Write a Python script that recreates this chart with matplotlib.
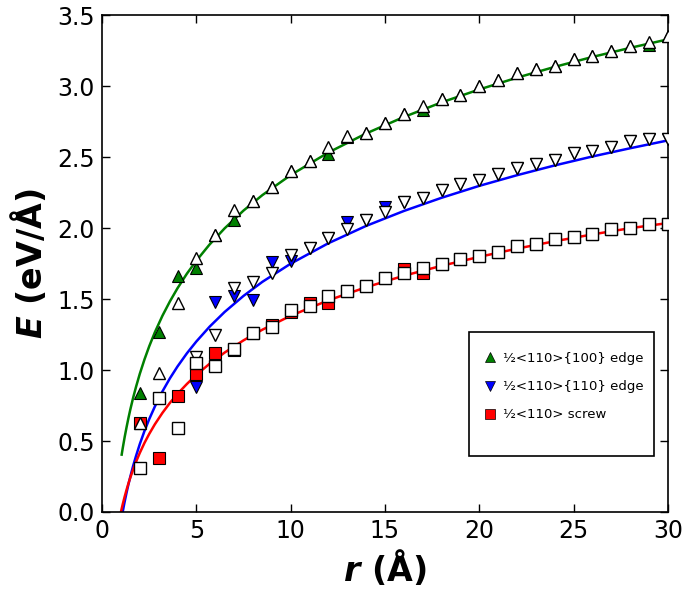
import matplotlib
matplotlib.use("Agg")
import matplotlib.pyplot as plt
from matplotlib.lines import Line2D
from matplotlib.patches import Rectangle

plt.rcParams["font.family"] = ["DejaVu Sans"]
plt.rcParams["mathtext.fontset"] = "custom"
plt.rcParams["mathtext.it"] = "DejaVu Sans:italic:bold"

# fitted curves
r_fit_100 = [1.04, 1.1, 1.2, 1.3, 1.4, 1.5, 1.65, 1.8, 2, 2.25, 2.5, 2.8, 3.2, 3.6, 4, 4.5, 5, 5.7,
             6.5, 7.5, 8.5, 10, 12, 14, 16, 18, 20, 22, 24, 26, 28, 30]
e_fit_100 = [0.404, 0.453, 0.529, 0.598, 0.663, 0.723, 0.806, 0.881, 0.973, 1.075, 1.167, 1.266,
             1.382, 1.484, 1.576, 1.679, 1.770, 1.884, 1.998, 2.123, 2.232, 2.373, 2.532, 2.666,
             2.782, 2.885, 2.976, 3.059, 3.135, 3.205, 3.269, 3.329]

r_fit_110 = [1.093, 1.15, 1.2, 1.3, 1.4, 1.5, 1.65, 1.8, 2, 2.25, 2.5, 2.8, 3.2, 3.6, 4, 4.5, 5, 5.7,
             6.5, 7.5, 8.5, 10, 12, 14, 16, 18, 20, 22, 24, 26, 28, 30]
e_fit_110 = [0.0, 0.040, 0.074, 0.137, 0.196, 0.250, 0.326, 0.394, 0.478, 0.571, 0.654, 0.743,
             0.849, 0.942, 1.025, 1.118, 1.201, 1.305, 1.409, 1.522, 1.621, 1.749, 1.893, 2.015,
             2.120, 2.213, 2.297, 2.372, 2.441, 2.504, 2.562, 2.617]

r_fit_screw = [1.0, 1.05, 1.1, 1.2, 1.3, 1.4, 1.5, 1.65, 1.8, 2, 2.25, 2.5, 2.8, 3.2, 3.6, 4, 4.5, 5,
               5.7, 6.5, 7.5, 8.5, 10, 12, 14, 16, 18, 20, 22, 24, 26, 28, 30]
e_fit_screw = [0.0, 0.029, 0.057, 0.109, 0.157, 0.202, 0.243, 0.300, 0.353, 0.416, 0.487, 0.550,
               0.618, 0.698, 0.769, 0.832, 0.902, 0.966, 1.044, 1.123, 1.209, 1.284, 1.382, 1.491,
               1.583, 1.664, 1.734, 1.797, 1.855, 1.907, 1.955, 1.999, 2.035]

# {100} edge, r = 2..30
r_100 = list(range(2, 31))
e_100_filled = [0.84, 1.27, 1.66, 1.72, 1.95, 2.06, 2.19, 2.29, 2.40, 2.47, 2.52, 2.64, 2.67, 2.74,
                2.80, 2.83, 2.91, 2.94, 3.00, 3.04, 3.09, 3.12, 3.14, 3.19, 3.21, 3.25, 3.28, 3.29, 3.35]
e_100_open = [0.63, 0.98, 1.47, 1.79, 1.95, 2.13, 2.19, 2.29, 2.40, 2.47, 2.57, 2.65, 2.67, 2.74,
              2.80, 2.86, 2.91, 2.94, 3.00, 3.04, 3.09, 3.12, 3.14, 3.19, 3.21, 3.25, 3.28, 3.31, 3.35]

# {110} edge, r = 5..30
r_110 = list(range(5, 31))
e_110_filled = [0.88, 1.48, 1.52, 1.49, 1.76, 1.77, 1.86, 1.93, 2.04, 2.06, 2.15, 2.18, 2.21, 2.27,
                2.31, 2.34, 2.38, 2.42, 2.45, 2.48, 2.53, 2.54, 2.57, 2.61, 2.63, 2.63]
e_110_open = [1.09, 1.25, 1.58, 1.62, 1.68, 1.81, 1.86, 1.93, 1.99, 2.06, 2.11, 2.18, 2.21, 2.27,
              2.31, 2.34, 2.38, 2.42, 2.45, 2.48, 2.53, 2.54, 2.57, 2.61, 2.63, 2.63]

# screw, r = 2..30
r_screw = list(range(2, 31))
e_screw_filled = [0.63, 0.38, 0.82, 0.97, 1.12, 1.14, 1.26, 1.32, 1.41, 1.47, 1.47, 1.56, 1.59, 1.65,
                  1.71, 1.68, 1.75, 1.78, 1.80, 1.83, 1.87, 1.89, 1.92, 1.94, 1.96, 1.99, 2.00, 2.03, 2.03]
e_screw_open = [0.31, 0.80, 0.59, 1.05, 1.03, 1.15, 1.26, 1.30, 1.42, 1.45, 1.52, 1.56, 1.59, 1.65,
                1.68, 1.72, 1.75, 1.78, 1.80, 1.83, 1.87, 1.89, 1.92, 1.94, 1.96, 1.99, 2.00, 2.03, 2.03]

labels = ["½<110>{100} edge", "½<110>{110} edge", "½<110> screw"]
colors = ["green", "blue", "red"]
markers = ["^", "v", "s"]

fig = plt.figure(figsize=(6.85, 5.93), dpi=100)
ax = fig.add_axes([0.149, 0.1366, 0.826, 0.838])

fits = [(r_fit_100, e_fit_100), (r_fit_110, e_fit_110), (r_fit_screw, e_fit_screw)]
filled = [(r_100, e_100_filled), (r_110, e_110_filled), (r_screw, e_screw_filled)]
opened = [(r_100, e_100_open), (r_110, e_110_open), (r_screw, e_screw_open)]

for (x, y), c in zip(fits, colors):
    ax.plot(x, y, color=c, lw=1.8, zorder=2)
for (x, y), c, m in zip(filled, colors, markers):
    ax.plot(x, y, ls="none", marker=m, ms=8, mfc=c, mec="black", mew=0.8, zorder=3)
for (x, y), m in zip(opened, markers):
    ax.plot(x, y, ls="none", marker=m, ms=8, mfc="white", mec="black", mew=1.0, zorder=4)

ax.set_xlim(0, 30)
ax.set_ylim(0, 3.5)
ax.set_xticks([0, 5, 10, 15, 20, 25, 30])
ax.set_yticks([0.0, 0.5, 1.0, 1.5, 2.0, 2.5, 3.0, 3.5])
ax.set_yticklabels([f"{v:.1f}" for v in ax.get_yticks()])
ax.tick_params(direction="in", top=True, right=True, length=6, width=1, labelsize=17, pad=5)
for sp in ax.spines.values():
    sp.set_linewidth(1.2)

ax.set_xlabel(r"$r$ (Å)", fontsize=24, fontweight="bold", labelpad=4)
ax.set_ylabel(r"$E$ (eV/Å)", fontsize=24, fontweight="bold", labelpad=6)

# legend box is larger than its entries
ax.add_patch(Rectangle((0.649, 0.113), 0.326, 0.249, transform=ax.transAxes,
                       facecolor="white", edgecolor="black", lw=1.2, zorder=5))
handles = [Line2D([], [], ls="none", marker=m, ms=7, mfc=c, mec="black", mew=0.5)
           for c, m in zip(colors, markers)]
leg = ax.legend(handles, labels, loc="upper left", bbox_to_anchor=(0.672, 0.322),
                frameon=False, fontsize=9.5, numpoints=1, handlelength=1.2,
                handletextpad=0.4, labelspacing=1.15, borderpad=0, borderaxespad=0)
leg.set_zorder(6)

fig.savefig("out.png", dpi=100)
